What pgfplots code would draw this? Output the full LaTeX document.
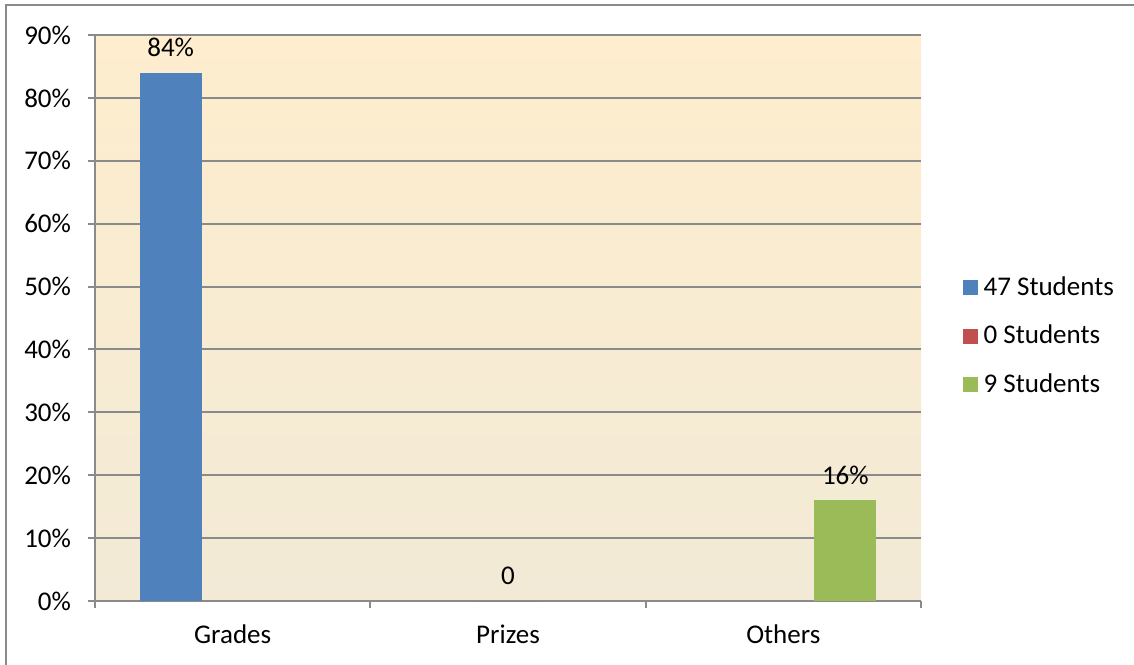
\documentclass[border=0pt]{standalone}
\usepackage{pgfplots}
\pgfplotsset{compat=1.18}
\usepackage{fontspec}
\setmainfont{Carlito}
\definecolor{sblue}{RGB}{79,129,189}
\definecolor{sred}{RGB}{192,80,77}
\definecolor{sgreen}{RGB}{155,187,89}
\definecolor{gridgray}{RGB}{138,138,138}
\definecolor{bgtop}{RGB}{254,237,206}
\definecolor{bgbot}{RGB}{242,234,214}
\pgfplotsset{sqlegend/.style={legend image code/.code={\fill[##1] (0pt,-3.75pt) rectangle (7.5pt,3.75pt);}}}
\newcommand{\chartfont}{\fontsize{13.5}{16}\selectfont}
\begin{document}
\begin{tikzpicture}[font=\chartfont]
\begin{axis}[
  at={(0pt,0pt)}, anchor=south west,
  scale only axis, width=413pt, height=283pt,
  xmin=-0.5, xmax=2.5, ymin=0, ymax=90,
  axis x line*=bottom, axis y line*=left,
  axis line style={draw=gridgray, line width=1pt, -},
  ytick={0,10,...,90},
  yticklabel={\pgfmathprintnumber{\tick}\%},
  /pgf/number format/assume math mode=true,
  ymajorgrids, major grid style={gridgray, line width=1pt},
  xtick={0,1,2}, xticklabels={Grades,Prizes,Others},
  major x tick style={draw=none},
  minor xtick={-0.5,0.5,1.5,2.5},
  tick align=outside, major tick length=3.5pt, minor tick length=3.5pt,
  tick style={gridgray, line width=1pt},
  yticklabel style={font=\chartfont, xshift=-5pt},
  xticklabel style={font=\chartfont, yshift=-5pt},
  axis background/.style={top color=bgtop, bottom color=bgbot},
  ybar, bar width=31pt,
  nodes near coords, point meta=explicit symbolic,
  every node near coord/.append style={yshift=4.5pt, black, font=\chartfont},
  legend style={draw=none, fill=none, at={(1.0505,0.468)}, anchor=west, inner sep=0pt,
    row sep=10pt, font=\chartfont,
    nodes={inner sep=1.75pt},
    /tikz/every odd column/.style={column sep=1pt}},
  legend cell align=left,
]
\addplot[fill=sblue, draw=none, bar shift=-31pt, sqlegend] coordinates {(0,84) [84\%]};
\addplot[fill=sred, draw=none, bar shift=0pt, sqlegend] coordinates {(1,0) [0]};
\addplot[fill=sgreen, draw=none, bar shift=31pt, sqlegend] coordinates {(2,16) [16\%]};
\legend{47 Students, 0 Students, 9 Students}
\end{axis}
\draw[gridgray, line width=1pt] (-44.25pt,-40pt) -- (-44.25pt,297.75pt) -- (540pt,297.75pt);
\pgfresetboundingbox
\path[use as bounding box] (-47.5pt,-31.5pt) rectangle (519.5pt,300.5pt);
\end{tikzpicture}
\end{document}
